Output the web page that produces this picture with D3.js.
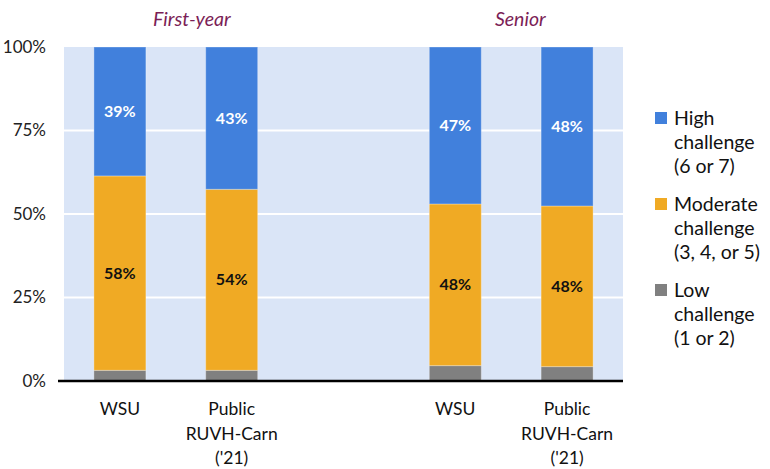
<!DOCTYPE html>
<html>
<head>
<meta charset="utf-8">
<script src="https://cdn.jsdelivr.net/npm/d3@7"></script>
<style>
  body { margin: 0; background: #fff; }
  svg text { font-family: Lato, "Open Sans", sans-serif; }
</style>
</head>
<body>
<svg id="chart" width="770" height="469"></svg>
<script>
// slots on the x axis, the blank one splits the two groups
var slots = ["fy_wsu", "fy_pub", "gap", "sr_wsu", "sr_pub"];
var barSlots = ["fy_wsu", "fy_pub", "sr_wsu", "sr_pub"];
var barLabels = [["WSU"], ["Public", "RUVH-Carn", "('21)"], ["WSU"], ["Public", "RUVH-Carn", "('21)"]];
var groupTitles = ["First-year", "Senior"];

// percents
var lowVals = [3.2, 3.2, 4.6, 4.3];
var modVals = [58.2, 54.2, 48.4, 48.1];
var highVals = [38.6, 42.6, 47.0, 47.6];

var yTicks = [0, 25, 50, 75, 100];
var seriesNames = ["low", "mod", "high"];
var legendLabels = [["High", "challenge", "(6 or 7)"], ["Moderate", "challenge", "(3, 4, or 5)"], ["Low", "challenge", "(1 or 2)"]];
var legendKeys = ["high", "mod", "low"];

var colors = { high: "#4180dc", mod: "#f0aa24", low: "#808080" };

var svg = d3.select("#chart");
// note: "top" is taken by window.top, so plot edges get a prefix
var plotL = 64, plotR = 623, plotT = 47, plotB = 381;

var x = d3.scaleBand().domain(slots).range([plotL, plotR]).paddingInner(0.535).paddingOuter(0.2675);
var y = d3.scaleLinear().domain([0, 100]).range([plotB, plotT]);

// plot background
svg.append("rect")
  .attr("x", plotL).attr("y", plotT)
  .attr("width", plotR - plotL).attr("height", plotB - plotT)
  .attr("fill", "#dae5f7");

// white gridlines
svg.selectAll("line.grid")
  .data(yTicks.filter(function(d) { return d > 0 && d < 100; }))
  .enter().append("line")
  .attr("class", "grid")
  .attr("x1", plotL).attr("x2", plotR)
  .attr("y1", function(d) { return y(d); })
  .attr("y2", function(d) { return y(d); })
  .attr("stroke", "#fff").attr("stroke-width", 2);

// y tick labels
svg.selectAll("text.ytick")
  .data(yTicks)
  .enter().append("text")
  .attr("class", "ytick")
  .attr("x", 46)
  .attr("y", function(d) { return y(d); })
  .attr("dy", "0.35em")
  .attr("text-anchor", "end")
  .attr("font-size", 17)
  .attr("fill", "#222")
  .text(function(d) { return d + "%"; });

// build table for stack
var table = barSlots.map(function(s, i) {
  return { slot: s, low: lowVals[i], mod: modVals[i], high: highVals[i] };
});
var stacked = d3.stack().keys(seriesNames)(table);

var layers = svg.selectAll("g.layer")
  .data(stacked)
  .enter().append("g")
  .attr("class", "layer")
  .attr("fill", function(d) { return colors[d.key]; });

layers.selectAll("rect")
  .data(function(d) { return d; })
  .enter().append("rect")
  .attr("x", function(d) { return x(d.data.slot); })
  .attr("width", x.bandwidth())
  .attr("y", function(d) { return y(d[1]); })
  .attr("height", function(d) { return y(d[0]) - y(d[1]); })
  .attr("stroke", "rgba(255,255,255,0.3)")
  .attr("stroke-width", 1);

// value labels for mod and high
stacked.forEach(function(layer) {
  if (layer.key === "low") return;
  svg.selectAll("text.val-" + layer.key)
    .data(layer)
    .enter().append("text")
    .attr("class", "val-" + layer.key)
    .attr("x", function(d) { return x(d.data.slot) + x.bandwidth() / 2; })
    .attr("y", function(d) { return y((d[0] + d[1]) / 2); })
    .attr("dy", "0.35em")
    .attr("text-anchor", "middle")
    .attr("font-size", 16)
    .attr("font-weight", "bold")
    .attr("fill", layer.key === "high" ? "#fff" : "#111")
    .text(function(d) { return Math.round(d[1] - d[0]) + "%"; });
});

// axis line
svg.append("line")
  .attr("x1", plotL - 6).attr("x2", plotR)
  .attr("y1", plotB).attr("y2", plotB)
  .attr("stroke", "#000").attr("stroke-width", 2.5);

// x labels
barSlots.forEach(function(s, i) {
  var t = svg.append("text")
    .attr("x", x(s) + x.bandwidth() / 2)
    .attr("y", 415)
    .attr("text-anchor", "middle")
    .attr("font-size", 17.5)
    .attr("fill", "#111");
  barLabels[i].forEach(function(line, j) {
    t.append("tspan")
      .attr("x", x(s) + x.bandwidth() / 2)
      .attr("dy", j === 0 ? 0 : 24.5)
      .text(line);
  });
});

// group titles
var titleX = [x("fy_wsu") + x.bandwidth() / 2 + 72, x("sr_wsu") + x.bandwidth() / 2 + 65];
groupTitles.forEach(function(g, i) {
  svg.append("text")
    .attr("x", titleX[i])
    .attr("y", 26)
    .attr("text-anchor", "middle")
    .attr("font-size", 19.5)
    .attr("font-style", "italic")
    .attr("fill", "#7b1e56")
    .text(g);
});

// legend
var legend = svg.selectAll("g.legend")
  .data(legendKeys)
  .enter().append("g")
  .attr("class", "legend")
  .attr("transform", function(d, i) { return "translate(655," + (112 + i * 86) + ")"; });

legend.append("rect")
  .attr("width", 12).attr("height", 12)
  .attr("fill", function(d) { return colors[d]; });

legend.append("text")
  .attr("x", 19)
  .attr("y", 13)
  .attr("font-size", 19.5)
  .attr("fill", "#111")
  .each(function(d, i) {
    var t = d3.select(this);
    legendLabels[i].forEach(function(line, j) {
      t.append("tspan").attr("x", 19).attr("dy", j === 0 ? 0 : 24).text(line);
    });
  });
</script>
</body>
</html>
